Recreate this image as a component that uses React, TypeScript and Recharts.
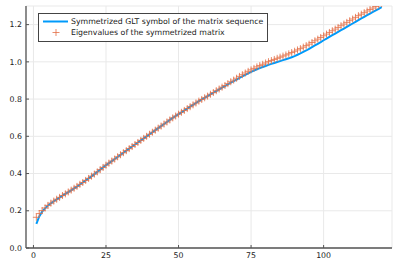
import React from 'react';
import {
  ComposedChart,
  Line,
  Scatter,
  XAxis,
  YAxis,
  CartesianGrid,
  Legend
} from 'recharts';

// values, one per index n = 1..120
const symbolValues = [
  0.130, 0.170, 0.195, 0.213, 0.228, 0.240, 0.251, 0.261, 0.271, 0.281,
  0.291, 0.300, 0.310, 0.320, 0.330, 0.341, 0.352, 0.363, 0.374, 0.385,
  0.397, 0.409, 0.421, 0.433, 0.445, 0.456, 0.467, 0.478, 0.489, 0.500,
  0.512, 0.523, 0.534, 0.545, 0.556, 0.567, 0.578, 0.589, 0.600, 0.611,
  0.622, 0.633, 0.644, 0.655, 0.666, 0.677, 0.688, 0.699, 0.709, 0.719,
  0.729, 0.739, 0.749, 0.759, 0.769, 0.779, 0.789, 0.798, 0.807, 0.816,
  0.825, 0.834, 0.843, 0.852, 0.861, 0.870, 0.879, 0.888, 0.897, 0.905,
  0.914, 0.922, 0.930, 0.938, 0.946, 0.953, 0.960, 0.966, 0.972, 0.978,
  0.984, 0.989, 0.994, 0.999, 1.004, 1.009, 1.014, 1.019, 1.025, 1.031,
  1.038, 1.045, 1.053, 1.061, 1.070, 1.079, 1.088, 1.097, 1.106, 1.116,
  1.125, 1.134, 1.143, 1.152, 1.161, 1.170, 1.179, 1.188, 1.197, 1.206,
  1.215, 1.224, 1.233, 1.242, 1.251, 1.259, 1.268, 1.277, 1.285, 1.294
];

const eigenValues = [
  0.165, 0.185, 0.201, 0.215, 0.229, 0.241, 0.252, 0.262, 0.272, 0.282,
  0.291, 0.301, 0.311, 0.321, 0.331, 0.342, 0.352, 0.363, 0.374, 0.386,
  0.397, 0.409, 0.421, 0.433, 0.445, 0.456, 0.467, 0.478, 0.490, 0.501,
  0.512, 0.523, 0.534, 0.545, 0.556, 0.567, 0.578, 0.589, 0.600, 0.611,
  0.622, 0.633, 0.644, 0.655, 0.666, 0.677, 0.688, 0.699, 0.709, 0.719,
  0.729, 0.739, 0.749, 0.759, 0.769, 0.779, 0.789, 0.798, 0.807, 0.816,
  0.826, 0.835, 0.845, 0.854, 0.864, 0.873, 0.883, 0.893, 0.902, 0.912,
  0.922, 0.931, 0.940, 0.949, 0.957, 0.965, 0.973, 0.980, 0.987, 0.994,
  1.001, 1.007, 1.013, 1.019, 1.025, 1.031, 1.037, 1.043, 1.050, 1.057,
  1.064, 1.071, 1.079, 1.087, 1.095, 1.104, 1.113, 1.122, 1.131, 1.140,
  1.149, 1.158, 1.167, 1.176, 1.185, 1.194, 1.203, 1.212, 1.221, 1.230,
  1.239, 1.248, 1.256, 1.264, 1.273, 1.281, 1.289, 1.297, 1.305, 1.313
];

const xTicks = [0, 25, 50, 75, 100];
const yTicks = [0, 0.2, 0.4, 0.6, 0.8, 1.0, 1.2];

const symbolName = 'Symmetrized GLT symbol of the matrix sequence';
const eigenName = 'Eigenvalues of the symmetrized matrix';

const BLUE = '#009AFA';
const ORANGE = '#E36F47';
const FONT = '"DejaVu Sans", sans-serif';

const data = symbolValues.map((s, i) => ({ n: i + 1, symbol: s, eigen: eigenValues[i] }));

const Plus = (props: any) => {
  const { cx, cy } = props;
  if (cx == null || cy == null) return null;
  const r = 3.5;
  return (
    <path
      d={`M${cx - r},${cy}H${cx + r}M${cx},${cy - r}V${cy + r}`}
      stroke={ORANGE}
      strokeWidth={1}
      strokeOpacity={0.8}
      fill="none"
    />
  );
};

const XTick = (props: any) => {
  const { x, y, payload } = props;
  return (
    <g>
      <line x1={x} x2={x} y1={y - 4} y2={y - 7} stroke="#555" strokeWidth={1} />
      <text x={x} y={y} dy="0.71em" textAnchor="middle" fontSize={7.8} fontFamily={FONT} fill="#222">
        {payload.value}
      </text>
    </g>
  );
};

const YTick = (props: any) => {
  const { x, y, payload } = props;
  return (
    <g>
      <line x1={x + 4} x2={x + 7} y1={y} y2={y} stroke="#555" strokeWidth={1} />
      <text x={x} y={y} dy="0.35em" textAnchor="end" fontSize={7.8} fontFamily={FONT} fill="#222">
        {Number(payload.value).toFixed(1)}
      </text>
    </g>
  );
};

const LegendBox = () => (
  <div
    style={{
      border: '1px solid #444',
      background: 'white',
      fontFamily: FONT,
      fontSize: 7.8,
      color: '#222',
      padding: '2px 0 3px 0',
      lineHeight: '11px',
      width: 228,
      boxSizing: 'content-box'
    }}
  >
    <div style={{ display: 'flex', alignItems: 'center' }}>
      <svg width={32} height={11}>
        <line x1={4} x2={29} y1={5.5} y2={5.5} stroke={BLUE} strokeWidth={2} />
      </svg>
      <span>{symbolName}</span>
    </div>
    <div style={{ display: 'flex', alignItems: 'center' }}>
      <svg width={32} height={11}>
        <Plus cx={17} cy={5.5} />
      </svg>
      <span>{eigenName}</span>
    </div>
  </div>
);

export default function App() {
  return (
    <div style={{ position: 'absolute', left: 0, top: 0, background: 'white' }}>
      <ComposedChart width={399} height={266} data={data} margin={{ top: 6, right: 7, left: 0, bottom: 0 }}>
        <CartesianGrid stroke="#e9e9e9" strokeWidth={1} />
        <XAxis
          dataKey="n"
          type="number"
          domain={[-2.57, 123.57]}
          ticks={xTicks}
          allowDataOverflow
          height={18}
          tickSize={0}
          tickMargin={4}
          tickLine={false}
          tick={<XTick />}
          axisLine={{ stroke: '#555', strokeWidth: 1.3 }}
        />
        <YAxis
          type="number"
          domain={[0, 1.3]}
          ticks={yTicks}
          allowDataOverflow
          width={26}
          tickSize={0}
          tickMargin={4}
          tickLine={false}
          tick={<YTick />}
          axisLine={{ stroke: '#555', strokeWidth: 1.3 }}
        />
        <Legend
          layout="horizontal"
          verticalAlign="middle"
          align="center"
          content={<LegendBox />}
          wrapperStyle={{ left: 38, top: 13, width: 'auto', height: 'auto' }}
        />
        <Line
          dataKey="symbol"
          name={symbolName}
          stroke={BLUE}
          strokeWidth={2}
          dot={false}
          type="linear"
          isAnimationActive={false}
        />
        <Scatter
          dataKey="eigen"
          name={eigenName}
          shape={<Plus />}
          isAnimationActive={false}
        />
      </ComposedChart>
    </div>
  );
}
